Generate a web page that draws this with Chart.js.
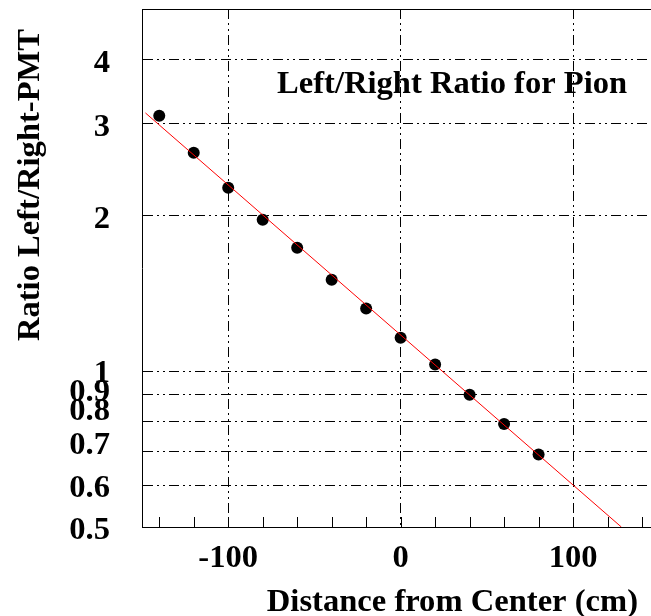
<!DOCTYPE html>
<html>
<head>
<meta charset="utf-8">
<script src="https://cdn.jsdelivr.net/npm/chart.js@4/dist/chart.umd.min.js"></script>
<style>
  html, body { margin: 0; padding: 0; background: #fff; }
  canvas { display: block; }
</style>
</head>
<body>
<canvas id="grafikRasio" width="651" height="616"></canvas>
<script>
// data
const distances = [-140, -120, -100, -80, -60, -40, -20, 0, 20, 40, 60, 80];
const ratios = [3.11, 2.64, 2.26, 1.96, 1.73, 1.50, 1.32, 1.16, 1.03, 0.90, 0.79, 0.69];
const fitX = [-148, 128];
const fitY = [3.15, 0.5];
const xTicks = [-140, -120, -100, -80, -60, -40, -20, 0, 20, 40, 60, 80, 100, 120, 140];
const xLabels = [-100, 0, 100];
const yTicks = [0.5, 0.6, 0.7, 0.8, 0.9, 1, 2, 3, 4];

const FONT = '"Liberation Serif", "Times New Roman", serif';
// ROOT pushes crowded log labels up a little
const nudge = { '1': -1, '0.9': -6, '0.8': -14, '0.7': -10, '0.6': -1 };
const gridDash = [10, 4, 2, 4, 2, 4];

const rootStyle = {
    id: 'rootStyle',
    afterDraw(chart) {
        const ctx = chart.ctx;
        const area = chart.chartArea;
        const xs = chart.scales.x;
        ctx.save();
        ctx.strokeStyle = '#000';
        ctx.lineWidth = 1;
        // top frame
        ctx.beginPath();
        ctx.moveTo(area.left, area.top + 0.5);
        ctx.lineTo(area.right, area.top + 0.5);
        ctx.stroke();
        // inward ticks on x axis
        ctx.beginPath();
        xTicks.forEach(v => {
            const px = Math.round(xs.getPixelForValue(v)) + 0.5;
            ctx.moveTo(px, area.bottom);
            ctx.lineTo(px, area.bottom - 10);
        });
        ctx.stroke();

        ctx.fillStyle = '#000';
        ctx.font = 'bold 32.6px ' + FONT;
        ctx.textBaseline = 'alphabetic';
        ctx.textAlign = 'left';
        ctx.fillText('Left/Right Ratio for Pion', 277, 93);
        ctx.textAlign = 'right';
        ctx.fillText('Distance from Center (cm)', 638, 611);
        ctx.translate(39, 185);
        ctx.rotate(-Math.PI / 2);
        ctx.textAlign = 'center';
        ctx.fillText('Ratio Left/Right-PMT', 0, 0);
        ctx.restore();
    }
};

new Chart(document.getElementById('grafikRasio'), {
    type: 'scatter',
    data: {
        datasets: [{
            label: 'fit',
            data: fitX.map((x, i) => ({ x: x, y: fitY[i] })),
            showLine: true,
            borderColor: '#ff0000',
            borderWidth: 1,
            pointRadius: 0
        }, {
            label: 'ratio',
            data: distances.map((x, i) => ({ x: x, y: ratios[i] })),
            backgroundColor: '#000',
            borderWidth: 0,
            pointRadius: 6
        }]
    },
    options: {
        responsive: false,
        animation: false,
        layout: { autoPadding: false, padding: { top: 9, left: 0, right: 0, bottom: 0 } },
        plugins: {
            legend: { display: false },
            tooltip: { enabled: false }
        },
        scales: {
            x: {
                type: 'linear',
                min: -150,
                max: 145.2,
                afterBuildTicks: s => { s.ticks = xTicks.map(v => ({ value: v })); },
                afterFit: s => { s.height = 89; s.paddingLeft = 0; s.paddingRight = 0; },
                grid: {
                    color: c => (c.tick && xLabels.includes(c.tick.value)) ? '#000' : 'rgba(0,0,0,0)',
                    lineWidth: 1,
                    drawTicks: false
                },
                border: { display: true, color: '#000', width: 1, dash: gridDash },
                ticks: {
                    autoSkip: false,
                    maxRotation: 0,
                    padding: 12,
                    color: '#000',
                    font: { family: FONT, size: 32.6, weight: 'bold' },
                    callback: v => xLabels.includes(v) ? String(v) : ''
                }
            },
            y: {
                type: 'logarithmic',
                min: 0.5,
                max: 5,
                afterBuildTicks: s => { s.ticks = yTicks.map(v => ({ value: v })); },
                afterFit: s => { s.width = 142; s.paddingTop = 0; s.paddingBottom = 0; },
                grid: {
                    color: c => (c.tick && c.tick.value === 0.5) ? 'rgba(0,0,0,0)' : '#000',
                    lineWidth: 1,
                    drawTicks: false
                },
                border: { display: true, color: '#000', width: 1, dash: gridDash },
                ticks: {
                    autoSkip: false,
                    padding: 32,
                    labelOffset: 4,
                    color: '#000',
                    font: c => {
                        const n = c.tick ? (nudge[String(c.tick.value)] || 0) : 0;
                        return { family: FONT, size: 32.6, weight: 'bold',
                                 lineHeight: n ? (Math.abs(n) * 2) + 'px' : 1.2 };
                    },
                    callback: v => {
                        const s = String(v);
                        const n = nudge[s] || 0;
                        if (n < 0) return [s, ''];
                        if (n > 0) return ['', s];
                        return s;
                    }
                }
            }
        }
    },
    plugins: [rootStyle]
});
</script>
</body>
</html>
